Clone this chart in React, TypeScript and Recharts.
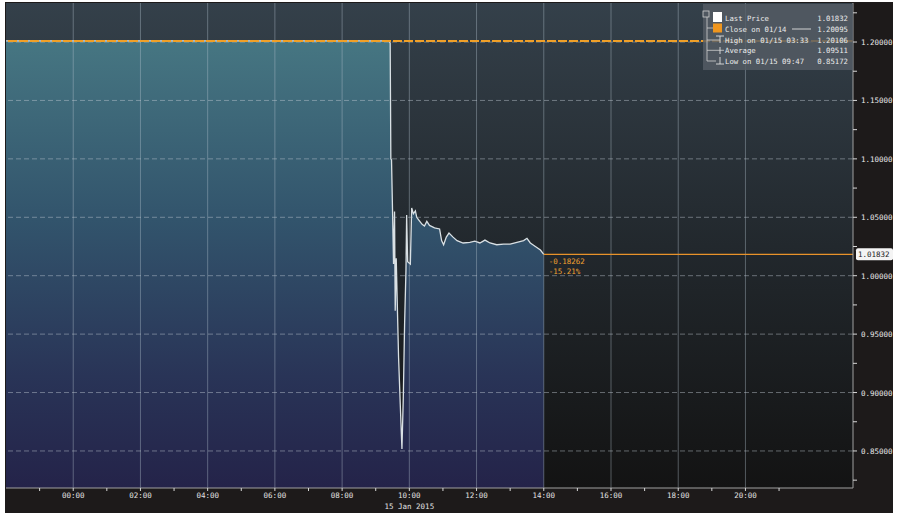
import React from 'react'
import { ComposedChart, Area, XAxis, YAxis, CartesianGrid, ReferenceLine } from 'recharts'

// hours from midnight 15 Jan 2015 (negative = 14 Jan evening)
const times = [
  -2, 3.55, 3.6, 9.4, 9.43, 9.44, 9.45, 9.47, 9.5, 9.53, 9.56, 9.58, 9.61, 9.63, 9.68, 9.73, 9.78,
  9.82, 9.86, 9.9, 9.92, 9.95, 10.03, 10.07, 10.12, 10.18, 10.22, 10.3, 10.38, 10.45, 10.52, 10.6,
  10.75, 10.9, 10.96, 11.02, 11.1, 11.18, 11.3, 11.42, 11.6, 11.8, 11.95, 12.1, 12.25, 12.4, 12.6,
  12.8, 13.0, 13.2, 13.4, 13.5, 13.6, 13.75, 13.9, 14.0,
]
const prices = [
  1.20095, 1.20106, 1.20095, 1.20095, 1.199, 1.15, 1.1, 1.099, 1.056, 1.01, 1.055, 0.97, 1.015, 0.99,
  0.93, 0.89, 0.85172, 0.895, 0.96, 1.005, 1.052, 1.012, 1.01, 1.058, 1.053, 1.0555, 1.05, 1.047,
  1.044, 1.0425, 1.0465, 1.043, 1.041, 1.04, 1.03, 1.0265, 1.033, 1.0365, 1.033, 1.03, 1.028,
  1.0285, 1.0295, 1.028, 1.0305, 1.028, 1.0265, 1.027, 1.027, 1.0285, 1.03, 1.032, 1.028, 1.025,
  1.022, 1.01832,
]

const lastPrice = 1.01832
const closePrice = 1.20095
const netChange = '-0.18262'
const pctChange = '-15.21%'

const xTicks = [-1, 0, 1, 2, 3, 4, 5, 6, 7, 8, 9, 10, 11, 12, 13, 14, 15, 16, 17, 18, 19, 20, 21]
const gridHours = [0, 2, 4, 6, 8, 10, 12, 14, 16, 18, 20]
const yTicks = [
  0.825, 0.85, 0.875, 0.9, 0.925, 0.95, 0.975, 1.0, 1.025, 1.05, 1.075, 1.1, 1.125, 1.15, 1.175, 1.2, 1.225,
]
const gridLevels = [0.85, 0.9, 0.95, 1.0, 1.05, 1.1, 1.15, 1.2]

const legendLabels = ['Last Price', 'Close on 01/14', 'High on 01/15 03:33', 'Average', 'Low on 01/15 09:47']
const legendValues = ['1.01832', '1.20095', '1.20106', '1.09511', '0.85172']

const X_MIN = -2
const X_MAX = 23.2
const Y_MIN = 0.8183
const Y_MAX = 1.2334
const FONT = '"DejaVu Sans Mono", monospace'

const data = times.map((t, i) => ({ t, price: prices[i] }))

const TimeTick = (props: any) => {
  const { x, y, payload } = props
  const h = payload.value
  const hh = ((h % 24) + 24) % 24
  return (
    <g>
      {h % 2 === 0 && (
        <text x={x} y={y + 5} textAnchor='middle' fontFamily={FONT} fontSize={7.5} fill='#e2e2e2'>
          {String(hh).padStart(2, '0') + ':00'}
        </text>
      )}
      {h === 10 && (
        <text x={x} y={y + 16} textAnchor='middle' fontFamily={FONT} fontSize={7.5} fill='#e2e2e2'>
          15 Jan 2015
        </text>
      )}
    </g>
  )
}

const PriceTick = (props: any) => {
  const { x, y, payload } = props
  const v = payload.value
  if (Math.abs(v * 20 - Math.round(v * 20)) > 1e-6) return <g />
  return (
    <text x={x + 2} y={y + 3} fontFamily={FONT} fontSize={7.5} fill='#e8e8e8'>
      {v.toFixed(5)}
    </text>
  )
}

const LastLabel = (props: any) => {
  const { viewBox } = props
  const x = viewBox.x + viewBox.width
  const y = viewBox.y
  const sx = viewBox.x
  return (
    <g>
      <rect x={x + 3} y={y - 6} width={37} height={12} rx={2} fill='#f4f4f4' />
      <text x={x + 5} y={y + 3} fontFamily={FONT} fontSize={7.5} fill='#222'>
        {lastPrice.toFixed(5)}
      </text>
      <text x={sx + 5} y={y + 10} fontFamily={FONT} fontSize={7.5} fill='#f0a030'>
        {netChange}
      </text>
      <text x={sx + 5} y={y + 20} fontFamily={FONT} fontSize={7.5} fill='#f0a030'>
        {pctChange}
      </text>
    </g>
  )
}

const rowY = [17.7, 29, 40, 50.3, 61]

const LegendBox = () => (
  <svg width={900} height={516} style={{ position: 'absolute', left: 0, top: 0, pointerEvents: 'none' }}>
    <rect x={703} y={4} width={150} height={66} fill='#555d65' fillOpacity={0.82} />
    <rect x={703} y={11} width={6} height={6} fill='none' stroke='#d0d0d0' strokeWidth={0.8} />
    <line x1={707} y1={17} x2={707} y2={61} stroke='#d0d0d0' strokeWidth={0.8} />
    <rect x={713} y={12} width={9} height={10} fill='#ffffff' />
    <rect x={713} y={23.5} width={9} height={9} fill='#f0961e' />
    <line x1={707} y1={28} x2={713} y2={28} stroke='#d0d0d0' strokeWidth={0.8} />
    <line x1={707} y1={40} x2={720} y2={40} stroke='#d0d0d0' strokeWidth={0.8} />
    <line x1={716} y1={36} x2={724} y2={36} stroke='#e0e0e0' strokeWidth={0.9} />
    <line x1={720} y1={36} x2={720} y2={43} stroke='#e0e0e0' strokeWidth={0.9} />
    <line x1={707} y1={50.3} x2={724} y2={50.3} stroke='#d0d0d0' strokeWidth={0.8} />
    <line x1={720} y1={47} x2={720} y2={54} stroke='#e0e0e0' strokeWidth={0.9} />
    <line x1={707} y1={61} x2={716} y2={61} stroke='#d0d0d0' strokeWidth={0.8} />
    <line x1={720} y1={57} x2={720} y2={64} stroke='#e0e0e0' strokeWidth={0.9} />
    <line x1={716} y1={64} x2={724} y2={64} stroke='#e0e0e0' strokeWidth={0.9} />
    <line x1={792} y1={29} x2={811} y2={29} stroke='#e0e0e0' strokeWidth={0.9} />
    {legendLabels.map((l, i) => (
      <text key={l} x={725} y={rowY[i] + 2.8} fontFamily={FONT} fontSize={7.3} fill='#ececec'>
        {l}
      </text>
    ))}
    {legendValues.map((v, i) => (
      <text key={i} x={848} y={rowY[i] + 2.8} textAnchor='end' fontFamily={FONT} fontSize={7.3} fill='#ececec'>
        {v}
      </text>
    ))}
  </svg>
)

export default function App() {
  return (
    <div style={{ position: 'absolute', left: 0, top: 0, width: 900, height: 516, background: '#ffffff' }}>
      <div style={{ position: 'absolute', left: 5, top: 2, width: 888, height: 511, background: '#1d1a1a' }} />
      <div style={{ position: 'absolute', left: 0, top: 0 }}>
        <ComposedChart width={900} height={516} data={data} margin={{ top: 3, right: 0, bottom: 0, left: 6 }}>
          <defs>
            <linearGradient id='bgGrad' x1='0' y1='0' x2='0' y2='1'>
              <stop offset='0%' stopColor='#34404a' />
              <stop offset='50%' stopColor='#22282d' />
              <stop offset='100%' stopColor='#131313' />
            </linearGradient>
            <linearGradient id='areaGrad' x1='0' y1='0' x2='0' y2='1'>
              <stop offset='0%' stopColor='#467682' />
              <stop offset='40%' stopColor='#32546c' />
              <stop offset='75%' stopColor='#293457' />
              <stop offset='100%' stopColor='#242349' />
            </linearGradient>
          </defs>
          <CartesianGrid horizontal={false} vertical={false} fill='url(#bgGrad)' fillOpacity={1} />
          <XAxis
            type='number'
            dataKey='t'
            domain={[X_MIN, X_MAX]}
            ticks={xTicks}
            interval={0}
            allowDataOverflow
            height={28}
            axisLine={{ stroke: '#a0a0a0' }}
            tickLine={{ stroke: '#d8d8d8' }}
            tickSize={3}
            tick={<TimeTick />}
          />
          <YAxis
            orientation='right'
            type='number'
            domain={[Y_MIN, Y_MAX]}
            ticks={yTicks}
            interval={0}
            allowDataOverflow
            width={47}
            axisLine={{ stroke: '#a0a0a0' }}
            tickLine={{ stroke: '#d8d8d8' }}
            tickSize={4}
            tick={<PriceTick />}
          />
          <Area
            type='linear'
            dataKey='price'
            stroke='#d9e0e4'
            strokeWidth={1.3}
            fill='url(#areaGrad)'
            fillOpacity={1}
            baseValue={Y_MIN}
            dot={false}
            activeDot={false}
            isAnimationActive={false}
          />
          {gridHours.map((h) => (
            <ReferenceLine key={'v' + h} x={h} stroke='#b4c2cc' strokeOpacity={0.4} strokeWidth={1} />
          ))}
          {gridLevels.map((v) => (
            <ReferenceLine key={'h' + v} y={v} stroke='#c4ccd4' strokeOpacity={0.45} strokeDasharray='5 3' />
          ))}
          <ReferenceLine y={closePrice} stroke='#f0a028' strokeWidth={2} strokeDasharray='9 2' />
          <ReferenceLine
            segment={[
              { x: 14, y: lastPrice },
              { x: X_MAX, y: lastPrice },
            ]}
            stroke='#e8922a'
            strokeWidth={1.3}
            label={<LastLabel />}
          />
        </ComposedChart>
      </div>
      <LegendBox />
    </div>
  )
}
